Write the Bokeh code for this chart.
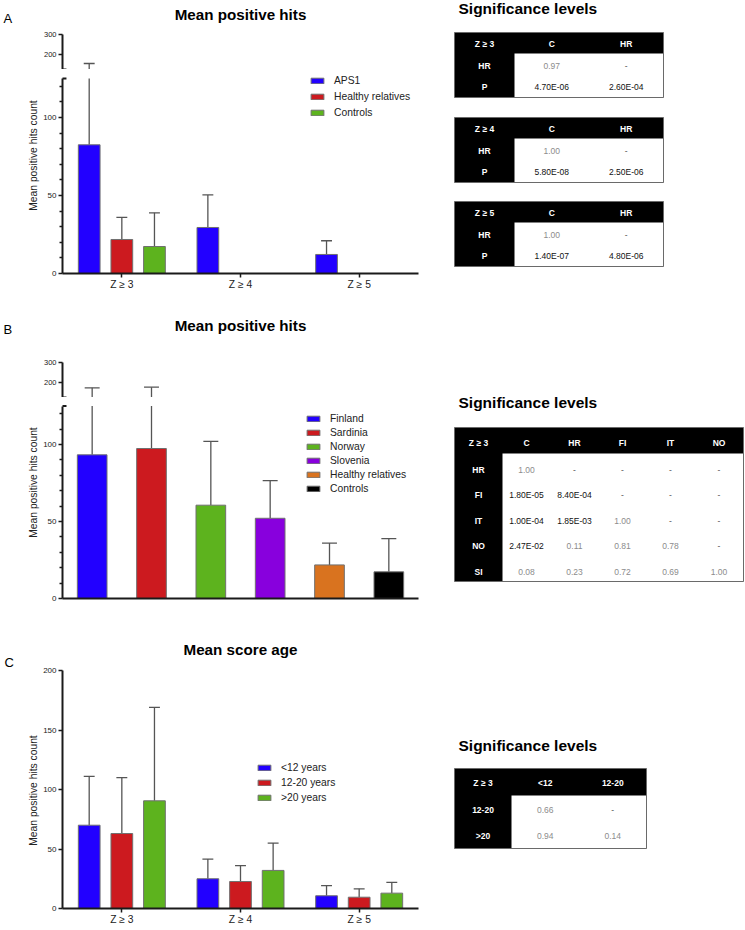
import numpy as np
from bokeh.plotting import figure
from bokeh.models import (Range1d, FactorRange, FixedTicker, Label, Legend, LegendItem,
                          ColumnDataSource, Arrow)
from bokeh.transform import dodge
from bokeh.layouts import column, row
from bokeh.embed import file_html
from bokeh.resources import INLINE
from bokeh.core.properties import value

FONT = "Liberation Sans"
EDGE = "#707070"
ERR = "#555555"
AXIS = "#1a1a1a"
TXT = "#222222"

# ---------------- data ----------------
z_groups = ["Z ≥ 3", "Z ≥ 4", "Z ≥ 5"]

# Panel A
a_series = ["APS1", "Healthy relatives", "Controls"]
a_colors = ["#2200ff", "#cc1a1f", "#5db31e"]
a_mean_aps1 = [82.5, 29.5, 12.2]
a_mean_hr = [21.8, 0.0, 0.0]
a_mean_ctrl = [17.3, 0.0, 0.0]
a_sd_aps1 = [72.5, 20.9, 8.8]
a_sd_hr = [14.2, 0.0, 0.0]
a_sd_ctrl = [21.6, 0.0, 0.0]

# Panel B
b_cats = ["Finland", "Sardinia", "Norway", "Slovenia", "Healthy relatives", "Controls"]
b_colors = ["#2200ff", "#cc1a1f", "#5db31e", "#8800dd", "#d9731f", "#000000"]
b_mean = [93.3, 97.4, 60.6, 52.1, 21.8, 17.3]
b_sd = [80.2, 79.3, 41.4, 24.5, 14.2, 21.6]

# Panel C
c_series = ["<12 years", "12-20 years", ">20 years"]
c_colors = ["#2200ff", "#cc1a1f", "#5db31e"]
c_mean_lt12 = [70.0, 25.0, 10.7]
c_mean_12_20 = [63.0, 22.7, 9.5]
c_mean_gt20 = [90.5, 32.0, 12.9]
c_sd_lt12 = [41.0, 16.5, 8.6]
c_sd_12_20 = [47.0, 13.3, 7.0]
c_sd_gt20 = [78.5, 23.0, 9.1]

# Significance tables
ta_header = [["Z ≥ 3", "C", "HR"], ["Z ≥ 4", "C", "HR"], ["Z ≥ 5", "C", "HR"]]
ta_rows = ["HR", "P"]
ta_vals = [
    [["0.97", "-"], ["4.70E-06", "2.60E-04"]],
    [["1.00", "-"], ["5.80E-08", "2.50E-06"]],
    [["1.00", "-"], ["1.40E-07", "4.80E-06"]],
]
tb_header = ["Z ≥ 3", "C", "HR", "FI", "IT", "NO"]
tb_rows = ["HR", "FI", "IT", "NO", "SI"]
tb_vals = [
    ["1.00", "-", "-", "-", "-"],
    ["1.80E-05", "8.40E-04", "-", "-", "-"],
    ["1.00E-04", "1.85E-03", "1.00", "-", "-"],
    ["2.47E-02", "0.11", "0.81", "0.78", "-"],
    ["0.08", "0.23", "0.72", "0.69", "1.00"],
]
tc_header = ["Z ≥ 3", "<12", "12-20"]
tc_rows = ["12-20", ">20"]
tc_vals = [["0.66", "-"], ["0.94", "0.14"]]

PAGE_H = 928
BREAK = 125


# ---------------- helpers ----------------
def make_fig(factors, height, bottom, right, yr, x_axis=True):
    p = figure(width=400, height=height, x_range=FactorRange(*factors), y_range=yr,
               output_backend="svg", toolbar_location=None,
               x_axis_location="below" if x_axis else None,
               min_border_left=21, min_border_right=right,
               min_border_top=0, min_border_bottom=bottom)
    p.outline_line_color = None
    p.grid.grid_line_color = None
    p.background_fill_color = "white"
    p.border_fill_color = "white"
    return p


def style_y(p, ticks, minor, bounds, size="8px"):
    ax = p.yaxis[0]
    ax.ticker = FixedTicker(ticks=ticks, minor_ticks=minor)
    ax.bounds = bounds
    ax.axis_line_width = 2
    ax.axis_line_color = AXIS
    ax.major_tick_out = 4
    ax.major_tick_in = 0
    ax.major_tick_line_width = 1.5
    ax.major_tick_line_color = AXIS
    ax.minor_tick_out = 3
    ax.minor_tick_in = 0
    ax.minor_tick_line_width = 1.5
    ax.minor_tick_line_color = AXIS
    ax.major_label_text_font = FONT
    ax.major_label_text_font_size = size
    ax.major_label_text_color = TXT
    ax.major_label_standoff = 2


def style_x(p, labels=True):
    ax = p.xaxis[0]
    ax.axis_line_width = 2
    ax.axis_line_color = AXIS
    ax.major_tick_in = 0
    ax.minor_tick_out = 0
    ax.minor_tick_in = 0
    if labels:
        ax.major_tick_out = 4
        ax.major_tick_line_width = 1.5
        ax.major_tick_line_color = AXIS
        ax.major_label_text_font = FONT
        ax.major_label_text_font_size = "10.3px"
        ax.major_label_text_color = TXT
        ax.major_label_standoff = 1
    else:
        ax.ticker = FixedTicker(ticks=[])
        ax.major_tick_out = 0
        ax.major_tick_line_color = None
        ax.major_label_standoff = 0


def grouped(p, groups, means, sds, colors, offsets, width, cap, clip=None):
    rs = []
    for m, s, col, off in zip(means, sds, colors, offsets):
        up = [a + b for a, b in zip(m, s)]
        src = ColumnDataSource(dict(g=groups, top=m))
        keep = [i for i, v in enumerate(s) if v > 0]
        line_up = [min(up[i], clip) if clip else up[i] for i in keep]
        esrc = ColumnDataSource(dict(g=[groups[i] for i in keep], top=[m[i] for i in keep],
                                     up=line_up))
        ckeep = [i for i in keep if (clip is None or up[i] <= clip)]
        csrc = ColumnDataSource(dict(g=[groups[i] for i in ckeep], up=[up[i] for i in ckeep]))
        p.segment(x0=dodge("g", off, range=p.x_range), y0="top",
                  x1=dodge("g", off, range=p.x_range), y1="up",
                  source=esrc, line_color=ERR, line_width=1.3)
        p.segment(x0=dodge("g", off - cap, range=p.x_range), y0="up",
                  x1=dodge("g", off + cap, range=p.x_range), y1="up",
                  source=csrc, line_color=ERR, line_width=1.3)
        r = p.vbar(x=dodge("g", off, range=p.x_range), top="top", width=width, source=src,
                   fill_color=col, line_color=EDGE, line_width=1)
        rs.append(r)
    return rs


def single(p, cats, mean, sd, colors, width, cap, clip=None):
    up = [a + b for a, b in zip(mean, sd)]
    line_up = [min(u, clip) if clip else u for u in up]
    src = ColumnDataSource(dict(c=cats, top=mean, up=line_up, col=colors))
    ck = [i for i, u in enumerate(up) if clip is None or u <= clip]
    csrc = ColumnDataSource(dict(c=[cats[i] for i in ck], up=[up[i] for i in ck]))
    p.segment(x0="c", y0="top", x1="c", y1="up", source=src, line_color=ERR, line_width=1.3)
    p.segment(x0=dodge("c", -cap, range=p.x_range), y0="up",
              x1=dodge("c", cap, range=p.x_range), y1="up",
              source=csrc, line_color=ERR, line_width=1.3)
    r = p.vbar(x="c", top="top", width=width, source=src, fill_color="col",
               line_color=EDGE, line_width=1)
    return r


def break_mark(p, y, ppu):
    p.add_layout(Arrow(end=None, x_start=-3.5 / ppu, x_end=4.0 / ppu, y_start=y, y_end=y,
                       line_width=2, line_color=AXIS))


def legend(p, items, loc, lh, gw=16, gh=7):
    lg = Legend(items=items, location=loc, border_line_color=None,
                background_fill_alpha=0, padding=0, margin=0, spacing=2,
                glyph_width=gw, glyph_height=gh, label_standoff=9, label_height=lh,
                label_text_font=FONT, label_text_font_size="10.3px",
                label_text_color=TXT)
    p.add_layout(lg)


def title(p, x, y, text):
    p.add_layout(Label(x=x, y=y, text=text, text_font=FONT, text_font_size="15.2px",
                       text_font_style="bold", text_color="#000",
                       text_align="center", text_baseline="middle"))


offs = [-0.275, 0.0, 0.275]
MINOR = [10, 20, 30, 40, 60, 70, 80, 90, 110, 120]

# ---------------- Panel A (y 0..292) ----------------
a_up = make_fig(z_groups, 69, 0, 19, Range1d(BREAK, BREAK + 69 * 5), x_axis=False)
style_y(a_up, [200, 300], [], (BREAK, 300), "7.5px")
grouped(a_up, z_groups, [a_mean_aps1, a_mean_hr, a_mean_ctrl],
        [a_sd_aps1, a_sd_hr, a_sd_ctrl], a_colors, offs, 0.183, 0.046)
break_mark(a_up, BREAK, 120)
title(a_up, 1.5, BREAK + (69 - 14) * 5, "Mean positive hits")

a_low = make_fig(z_groups, 223, 19, 19, Range1d(0, 204 / 1.56))
style_y(a_low, [0, 50, 100], MINOR, (0, BREAK))
style_x(a_low)
ra = grouped(a_low, z_groups, [a_mean_aps1, a_mean_hr, a_mean_ctrl],
             [a_sd_aps1, a_sd_hr, a_sd_ctrl], a_colors, offs, 0.183, 0.046, clip=BREAK)
break_mark(a_low, BREAK, 120)
legend(a_low, [LegendItem(label=s, renderers=[r]) for s, r in zip(a_series, ra)], (247, 154), 14)

# ---------------- Panel B (y 292..610) ----------------
b_up = make_fig(b_cats, 105, 0, 22, Range1d(BREAK, BREAK + 105 * 5), x_axis=False)
style_y(b_up, [200, 300], [], (BREAK, 300), "7.5px")
single(b_up, b_cats, b_mean, b_sd, b_colors, 0.5, 0.126)
break_mark(b_up, BREAK, 59.5)
title(b_up, 3.0, BREAK + (397 - 325) * 5, "Mean positive hits")

b_low = make_fig(b_cats, 213, 12, 22, Range1d(0, 201 / 1.54))
style_y(b_low, [0, 50, 100], MINOR, (0, BREAK))
style_x(b_low, labels=False)
rb = single(b_low, b_cats, b_mean, b_sd, b_colors, 0.5, 0.126, clip=BREAK)
break_mark(b_low, BREAK, 59.5)
legend(b_low, [LegendItem(label=c, renderers=[rb], index=i) for i, c in enumerate(b_cats)],
       (243, 104), 12)

# ---------------- Panel C (y 610..928) ----------------
c_fig = make_fig(z_groups, 318, 20, 19, Range1d(0, 298 / 1.19))
style_y(c_fig, [0, 50, 100, 150, 200], [], (0, 200))
style_x(c_fig)
rc = grouped(c_fig, z_groups, [c_mean_lt12, c_mean_12_20, c_mean_gt20],
             [c_sd_lt12, c_sd_12_20, c_sd_gt20], c_colors, offs, 0.183, 0.046)
legend(c_fig, [LegendItem(label=s, renderers=[r]) for s, r in zip(c_series, rc)], (194, 104), 13)
title(c_fig, 1.5, (908 - 649) / 1.19, "Mean score age")

# ---------------- side strip: panel letters and y-axis titles ----------------
side = figure(width=40, height=PAGE_H, x_range=Range1d(0, 40), y_range=Range1d(0, PAGE_H),
              output_backend="svg", toolbar_location=None, x_axis_location=None,
              y_axis_location=None, min_border=0, min_border_left=0, min_border_right=0,
              min_border_top=0, min_border_bottom=0)
side.outline_line_color = None
side.grid.visible = False
side.border_fill_color = "white"
side.text(x=[3, 3, 4], y=[PAGE_H - 18, PAGE_H - 329, PAGE_H - 662], text=["A", "B", "C"],
          text_font=value(FONT), text_font_size="13px", text_color="black",
          text_align="left", text_baseline="middle")
side.text(x=[33, 33, 33], y=[PAGE_H - 155, PAGE_H - 482, PAGE_H - 790],
          text=["Mean positive hits count"] * 3, angle=np.pi / 2,
          text_font=value(FONT), text_font_size="10.3px", text_color=TXT,
          text_align="center", text_baseline="middle")

# ---------------- Tables ----------------
t = figure(width=305, height=PAGE_H, x_range=Range1d(440, 745), y_range=Range1d(PAGE_H, 0),
           output_backend="svg", toolbar_location=None, x_axis_location=None,
           y_axis_location=None, min_border=0, min_border_left=0, min_border_right=0,
           min_border_top=0, min_border_bottom=0)
t.outline_line_color = None
t.grid.visible = False
t.background_fill_color = "white"
t.border_fill_color = "white"


def val_color(v):
    if v == "-":
        return "#555555"
    return "#111111" if float(v) < 0.05 else "#8c8c8c"


def draw_table(edges, top, hbot, bottom, hy, rys, header, rows, vals):
    left, right = edges[0], edges[-1]
    t.quad(left=[left], right=[right], top=[top], bottom=[bottom], fill_color="black",
           line_color=None)
    t.quad(left=[edges[1]], right=[right], top=[hbot], bottom=[bottom], fill_color="white",
           line_color=None)
    t.quad(left=[left], right=[right], top=[top], bottom=[bottom], fill_alpha=0,
           line_color="#6a6a6a", line_width=1)
    centers = [(edges[i] + edges[i + 1]) / 2 for i in range(len(edges) - 1)]
    hx = list(centers) + [centers[0]] * len(rows)
    hyy = [hy] * len(centers) + list(rys)
    htxt = list(header) + list(rows)
    t.text(x=hx, y=hyy, text=htxt, text_font=value(FONT), text_font_size="8.5px",
           text_font_style="bold", text_color="white", text_align="center",
           text_baseline="middle")
    vx, vy, vt, vc = [], [], [], []
    for ri, rv in enumerate(vals):
        for ci, v in enumerate(rv):
            vx.append(centers[ci + 1])
            vy.append(rys[ri])
            vt.append(v)
            vc.append(val_color(v))
    src = ColumnDataSource(dict(x=vx, y=vy, t=vt, c=vc))
    t.text(x="x", y="y", text="t", text_color="c", source=src, text_font=value(FONT),
           text_font_size="8.5px", text_align="center", text_baseline="middle")


def sig_title(y):
    t.text(x=[458], y=[y], text=["Significance levels"], text_font=value(FONT),
           text_font_size="15.5px", text_font_style="bold", text_color="black",
           text_align="left", text_baseline="middle")


sig_title(8)
for k, top in enumerate([32, 117, 201]):
    draw_table([454, 514, 588.5, 663], top, top + 21, top + 65, top + 11,
               [top + 33, top + 54], ta_header[k], ta_rows, ta_vals[k])

sig_title(402)
draw_table([454, 502, 550, 598, 646, 694, 743], 427, 453, 581, 442,
           [469, 494.5, 520, 545.5, 571], tb_header, tb_rows, tb_vals)

sig_title(745)
draw_table([454, 511, 578.5, 646], 768, 795, 848, 782, [809, 835],
           tc_header, tc_rows, tc_vals)

charts = column(a_up, a_low, b_up, b_low, c_fig, spacing=0)
root = row(side, charts, t, spacing=0)

open("out.html", "w").write(file_html(root, INLINE))
